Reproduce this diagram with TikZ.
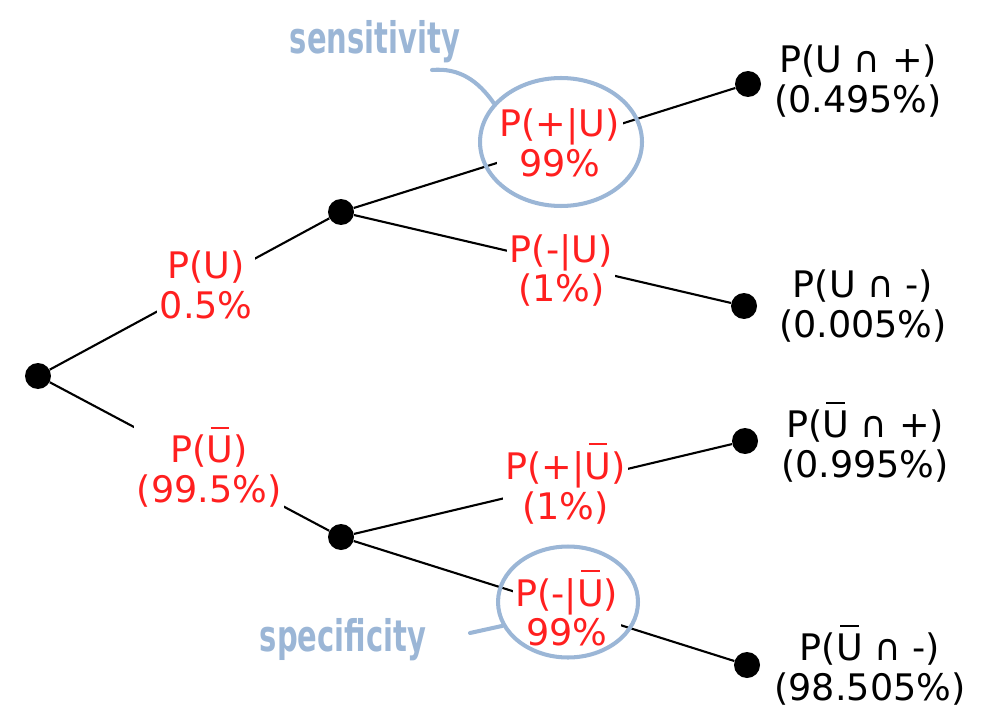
\documentclass[tikz,border=0pt]{standalone}
\usepackage{fontspec}
\setmainfont{DejaVu Sans}
\usetikzlibrary{shapes.geometric, positioning}
\definecolor{probRed}{HTML}{FF1F1F}
\definecolor{penBlue}{HTML}{9BB6D6}
\newcommand{\Ubar}{\rlap{\hspace{0.11em}\rule[0.93em]{0.51em}{0.055em}}U}

\begin{document}
\begin{tikzpicture}[
    x=0.02cm, y=-0.02cm,
    dot/.style={circle, fill=black, inner sep=0pt, minimum size=0.52cm},
    prob/.style={fill=white, inner sep=1.5pt, align=center, text=probRed, font=\fontsize{20.8}{22.7}\selectfont},
    outcome/.style={align=center, font=\fontsize{20.8}{22.7}\selectfont},
    branch/.style={line width=1.2pt},
    hand/.style={draw=penBlue, line width=2.3pt, line cap=round},
    ring/.style={hand, ellipse, inner sep=0pt},
    note/.style={text=penBlue, yscale=1.5, font=\fontsize{16.5}{18}\selectfont\bfseries},
]
    \useasboundingbox (0,0) rectangle (986,726);

    % tree
    \node[dot] (root) at (38,376) {};
    \node[dot] (nU) at (341,212) {};
    \node[dot] (nUbar) at (341,537) {};
    \node[dot] (lUp) at (748,84) {};
    \node[dot] (lUm) at (744,306) {};
    \node[dot] (lUbarp) at (745,441) {};
    \node[dot] (lUbarm) at (747,665) {};

    \draw[branch] (root) -- node[prob, pos=0.56] (pU) {P(U)\\0.5\%} (nU);
    \draw[branch] (root) -- node[prob, pos=0.57] (pUbar) {P(\Ubar)\\(99.5\%)} (nUbar);
    \draw[branch] (nU) -- node[prob, pos=0.54] (pPlusU) {P(+|U)\\99\%} (lUp);
    \draw[branch] (nU) -- node[prob, pos=0.55, yshift=-4pt] (pMinusU) {P(-|U)\\(1\%)} (lUm);
    \draw[branch] (nUbar) -- node[prob, pos=0.56] (pPlusUbar) {P(+|\Ubar)\\(1\%)} (lUbarp);
    \draw[branch] (nUbar) -- node[prob, pos=0.56] (pMinusUbar) {P(-|\Ubar)\\99\%} (lUbarm);

    \node[outcome] (oUp) at (858,81) {P(U ∩ +)\\(0.495\%)};
    \node[outcome] (oUm) at (863,306) {P(U ∩ -)\\(0.005\%)};
    \node[outcome] (oUbarp) at (865,442) {P(\Ubar{} ∩ +)\\(0.995\%)};
    \node[outcome] (oUbarm) at (870,665) {P(\Ubar{} ∩ -)\\(98.505\%)};

    % pen notes
    \node[ring, minimum width=3.24cm, minimum height=2.56cm] (ringSens) at (561,142) {};
    \node[note] (sens) at (375,42) {sensitivity};
    \coordinate (sensTail) at (432,70);
    \draw[hand] (sensTail) to[out=5, in=125] (ringSens.150);

    \node[ring, minimum width=2.8cm, minimum height=2.22cm] (ringSpec) at (568,602) {};
    \node[note] (spec) at (343,640) {specificity};
    \coordinate (specTail) at (470,633);
    \draw[hand] (specTail) -- (ringSpec.200);
\end{tikzpicture}
\end{document}
